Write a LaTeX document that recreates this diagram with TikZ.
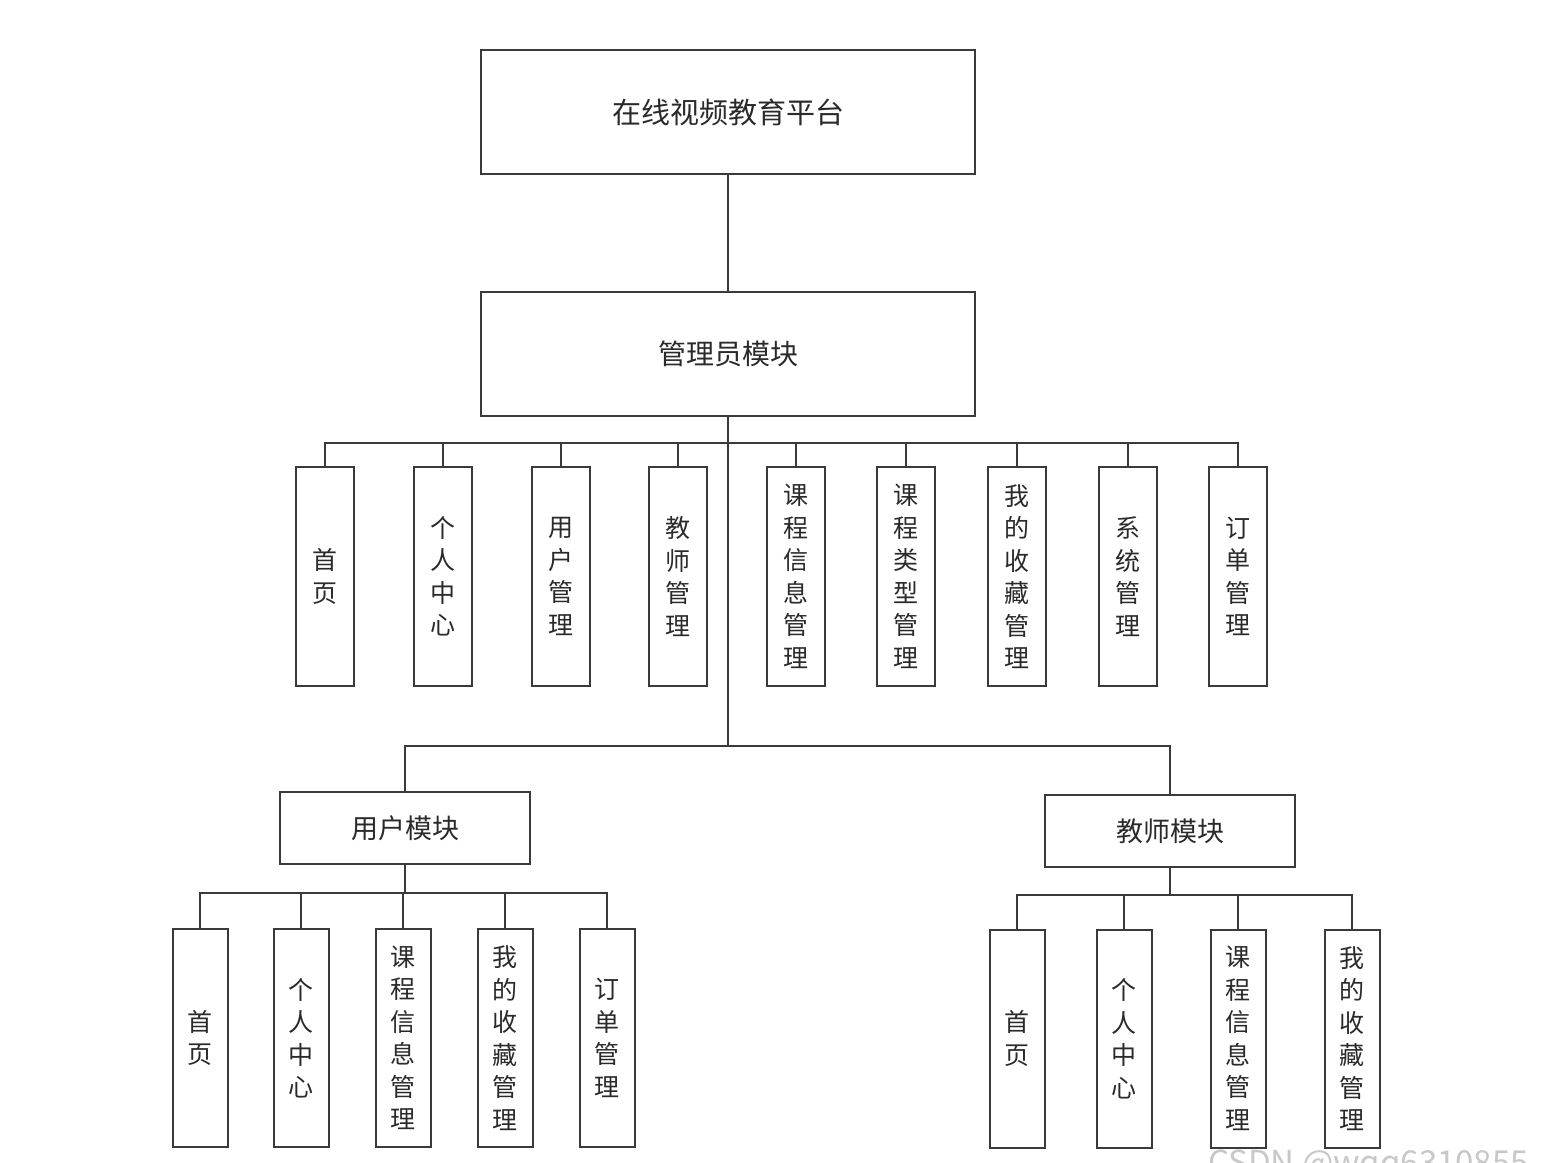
\documentclass[tikz,border=0pt]{standalone}
\usepackage{fontspec}
\setmainfont{Noto Sans CJK SC}
\definecolor{linec}{HTML}{3A3A3A}
\definecolor{textc}{HTML}{2A2A2A}
\definecolor{wmark}{HTML}{C8C8C8}
\begin{document}
\begin{tikzpicture}[x=0.5pt,y=-0.5pt,
  box/.style={draw=linec, line width=1pt, fill=white, inner sep=0pt, text=textc, font=\fontsize{13.5}{16}\selectfont},
  bigbox/.style={box, minimum width=247pt, minimum height=62pt},
  modbox/.style={box, minimum width=125pt, minimum height=36pt},
  vbox/.style={box, minimum width=29pt, minimum height=109.5pt, align=center, font=\fontsize{12.5}{16.25}\selectfont},
  vboxs/.style={vbox, minimum width=27.5pt, minimum height=109pt},
  link/.style={draw=linec, line width=1pt}]
\useasboundingbox (0,0) rectangle (1542,1162);
\fill[white] (0,0) rectangle (1542,1162);

% top levels
\node[bigbox, font=\fontsize{14.5}{17}\selectfont] (top) at (728,112) {在线视频教育平台};
\node[bigbox, font=\fontsize{14}{17}\selectfont] (admin) at (728,354) {管理员模块};

% admin children
\node[vbox] (a1) at (325,576.5) {首\\页};
\node[vbox] (a2) at (443,576.5) {个\\人\\中\\心};
\node[vbox] (a3) at (561,576.5) {用\\户\\管\\理};
\node[vbox] (a4) at (678,576.5) {教\\师\\管\\理};
\node[vbox] (a5) at (796,576.5) {课\\程\\信\\息\\管\\理};
\node[vbox] (a6) at (906,576.5) {课\\程\\类\\型\\管\\理};
\node[vbox] (a7) at (1017,576.5) {我\\的\\收\\藏\\管\\理};
\node[vbox] (a8) at (1128,576.5) {系\\统\\管\\理};
\node[vbox] (a9) at (1238,576.5) {订\\单\\管\\理};

% modules
\node[modbox] (umod) at (405,828) {用户模块};
\node[modbox] (tmod) at (1170,831) {教师模块};

% user children
\node[vboxs] (u1) at (200,1038) {首\\页};
\node[vboxs] (u2) at (301,1038) {个\\人\\中\\心};
\node[vboxs] (u3) at (403,1038) {课\\程\\信\\息\\管\\理};
\node[vboxs] (u4) at (505,1038) {我\\的\\收\\藏\\管\\理};
\node[vboxs] (u5) at (607,1038) {订\\单\\管\\理};

% teacher children
\node[vboxs] (t1) at (1017,1038.5) {首\\页};
\node[vboxs] (t2) at (1124,1038.5) {个\\人\\中\\心};
\node[vboxs] (t3) at (1238,1038.5) {课\\程\\信\\息\\管\\理};
\node[vboxs] (t4) at (1352,1038.5) {我\\的\\收\\藏\\管\\理};

% connectors
\coordinate (abus) at (728,443);
\coordinate (mbus) at (728,746);
\coordinate (ubus) at (405,893);
\coordinate (tbus) at (1170,895);

\draw[link] (top.south) -- (admin.north);
\draw[link] (admin.south) -- (mbus);
\foreach \c in {a1,a2,a3,a4,a5,a6,a7,a8,a9}
  \draw[link] (abus) -| (\c.north);
\draw[link] (mbus) -| (umod.north);
\draw[link] (mbus) -| (tmod.north);
\draw[link] (umod.south) -- (ubus);
\foreach \c in {u1,u2,u3,u4,u5}
  \draw[link] (ubus) -| (\c.north);
\draw[link] (tmod.south) -- (tbus);
\foreach \c in {t1,t2,t3,t4}
  \draw[link] (tbus) -| (\c.north);

% watermark (cut by the lower edge, as in the reference)
\node[anchor=west, text=wmark, font=\fontsize{16.5}{19}\selectfont, inner sep=0pt] (wm) at (1208,1166) {CSDN @wqq6310855};
\end{tikzpicture}
\end{document}
